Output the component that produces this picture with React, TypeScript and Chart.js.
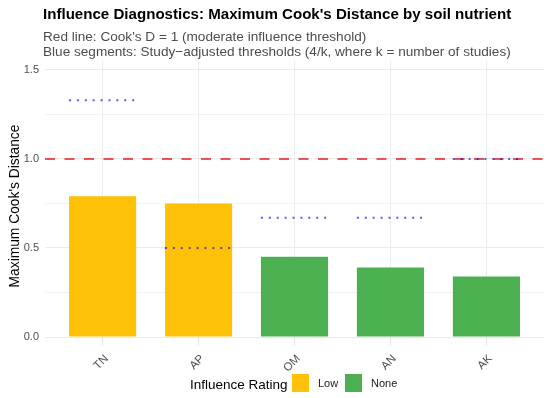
import React, { useEffect, useRef } from "react";
import { Chart, registerables } from "chart.js";

Chart.register(...registerables);

const categories = ["TN", "AP", "OM", "AN", "AK"];
const maxCooksD = [0.79, 0.75, 0.45, 0.39, 0.34];
const ratings = ["Low", "Low", "None", "None", "None"];
const studyThresholds = [1.33, 0.5, 0.67, 0.67, 1.0];
const redThreshold = 1;
const yTicks = [0, 0.25, 0.5, 0.75, 1, 1.25, 1.5];
const legendLabels = ["Low", "None"];

const FONT = "'Liberation Sans', Arial, Helvetica, sans-serif";
const ratingColors: Record<string, string> = { Low: "#FFC107", None: "#4CAF50" };

const overlayPlugin = {
  id: "overlay",
  afterDatasetsDraw(chart: any) {
    const { ctx, chartArea, scales } = chart;
    const x = scales.x;
    const y = scales.y;
    ctx.save();
    ctx.beginPath();
    ctx.rect(chartArea.left, chartArea.top, chartArea.right - chartArea.left, chartArea.bottom - chartArea.top);
    ctx.clip();
    // red dashed line
    const yr = y.getPixelForValue(redThreshold);
    ctx.strokeStyle = "rgba(235,40,40,0.8)";
    ctx.lineWidth = 2;
    ctx.setLineDash([10, 9.5]);
    ctx.beginPath();
    ctx.moveTo(chartArea.left, yr);
    ctx.lineTo(chartArea.right, yr);
    ctx.stroke();
    // blue dotted segments
    ctx.strokeStyle = "rgba(20,20,225,0.7)";
    ctx.lineWidth = 2;
    ctx.setLineDash([2, 5.9]);
    studyThresholds.forEach((t, i) => {
      const x0 = x.getPixelForValue(i - 0.35);
      const x1 = x.getPixelForValue(i + 0.35);
      const yy = y.getPixelForValue(t);
      ctx.beginPath();
      ctx.moveTo(x0, yy);
      ctx.lineTo(x1, yy);
      ctx.stroke();
    });
    ctx.restore();
  },
  afterDraw(chart: any) {
    const { ctx } = chart;
    ctx.save();
    ctx.textBaseline = "alphabetic";
    ctx.textAlign = "left";
    ctx.fillStyle = "#000000";
    ctx.font = `bold 15.1px ${FONT}`;
    ctx.fillText("Influence Diagnostics: Maximum Cook's Distance by soil nutrient", 43, 19);
    ctx.fillStyle = "#4D4D4D";
    ctx.font = `13.6px ${FONT}`;
    ctx.fillText("Red line: Cook's D = 1 (moderate influence threshold)", 43, 41);
    ctx.fillText("Blue segments: Study\u2212adjusted thresholds (4/k, where k = number of studies)", 43, 56);
    // y axis title
    ctx.save();
    ctx.translate(19, 206);
    ctx.rotate(-Math.PI / 2);
    ctx.textAlign = "center";
    ctx.fillStyle = "#000000";
    ctx.font = `13.8px ${FONT}`;
    ctx.fillText("Maximum Cook's Distance", 0, 0);
    ctx.restore();
    // legend
    ctx.fillStyle = "#000000";
    ctx.font = `13.5px ${FONT}`;
    ctx.fillText("Influence Rating", 190, 389);
    let lx = 292;
    legendLabels.forEach((lab) => {
      ctx.fillStyle = ratingColors[lab];
      ctx.fillRect(lx, 374, 17, 18);
      ctx.fillStyle = "#1A1A1A";
      ctx.font = `11px ${FONT}`;
      ctx.fillText(lab, lx + 26, 387);
      lx += 53;
    });
    ctx.restore();
  },
};

export default function App() {
  const ref = useRef<HTMLCanvasElement | null>(null);
  useEffect(() => {
    if (!ref.current) return;
    const chart = new Chart(ref.current, {
      type: "bar",
      data: {
        datasets: [
          {
            data: maxCooksD.map((v, i) => ({ x: i, y: v })),
            backgroundColor: ratings.map((r) => ratingColors[r]),
            barPercentage: 0.7,
            categoryPercentage: 1,
          } as any,
        ],
      },
      plugins: [overlayPlugin],
      options: {
        responsive: false,
        animation: false,
        devicePixelRatio: 1,
        layout: { padding: { left: 0, top: 61, right: 6, bottom: 0 } },
        plugins: { legend: { display: false }, title: { display: false }, tooltip: { enabled: false } },
        scales: {
          x: {
            type: "linear",
            min: -0.6,
            max: 4.6,
            offset: false,
            afterBuildTicks: (s: any) => {
              s.ticks = categories.map((_, i) => ({ value: i }));
            },
            afterFit: (s: any) => {
              s.height = 61;
            },
            ticks: {
              autoSkip: false,
              minRotation: 45,
              maxRotation: 45,
              padding: 7,
              labelOffset: 4,
              color: "#4D4D4D",
              font: { family: FONT, size: 11.5 },
              callback: (v: any) => categories[v as number] ?? "",
            },
            grid: { offset: false, color: "#EBEBEB", lineWidth: 1, drawTicks: true, tickLength: 8, tickColor: "#E3E3E3" },
            border: { display: false },
          },
          y: {
            min: 0,
            max: 1.55,
            afterBuildTicks: (s: any) => {
              s.ticks = yTicks.map((v) => ({ value: v }));
            },
            afterFit: (s: any) => {
              s.width = 45;
            },
            ticks: {
              padding: 6,
              color: "#4D4D4D",
              font: { family: FONT, size: 11 },
              callback: (v: any) => (Math.abs((v * 2) % 1) < 1e-6 ? Number(v).toFixed(1) : ""),
            },
            grid: {
              drawTicks: false,
              color: (c: any) => (Math.abs((c.tick.value * 2) % 1) < 1e-6 ? "#EBEBEB" : "#F3F3F3"),
              lineWidth: 1,
            },
            border: { display: false },
            title: { display: false },
          },
        },
      } as any,
    });
    return () => chart.destroy();
  }, []);
  return (
    <div style={{ position: "fixed", left: 0, top: 0, width: 550, height: 398, background: "#fff" }}>
      <canvas ref={ref} width={550} height={398} style={{ width: 550, height: 398 }} />
    </div>
  );
}
